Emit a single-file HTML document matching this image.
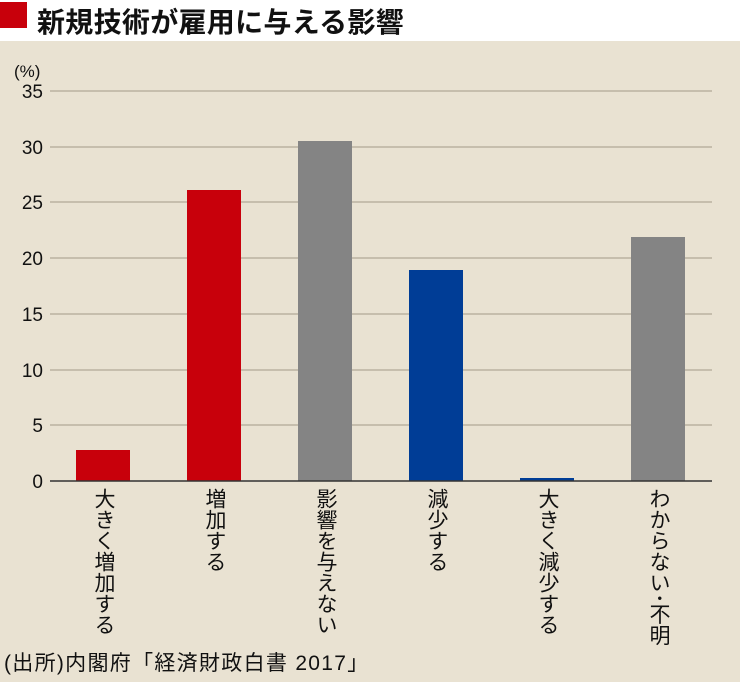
<!DOCTYPE html>
<html><head><meta charset="utf-8"><style>
body{margin:0;width:740px;height:682px;background:#fff;overflow:hidden;font-family:"Liberation Sans","Noto Sans CJK JP",sans-serif;}
.t{position:absolute;left:37px;top:1px;font-size:28px;font-weight:bold;color:#111;letter-spacing:0.3px}
.bg{position:absolute;left:0;top:41px;width:740px;height:641px;background:#e9e2d2}
.v{position:absolute;writing-mode:vertical-rl;font-size:21px;line-height:22px;color:#111;top:488px;letter-spacing:0}
</style></head><body>
<div style="position:absolute;left:0;top:2px;width:27px;height:26px;background:#c8000b"></div>
<div class="t">新規技術が雇用に与える影響</div>
<div class="bg"></div>
<svg width="740" height="682" style="position:absolute;left:0;top:0">
<g stroke="#a29a88" stroke-width="1">
<line x1="50" x2="712" y1="91" y2="91"/><line x1="50" x2="712" y1="147" y2="147"/>
<line x1="50" x2="712" y1="202" y2="202"/><line x1="50" x2="712" y1="258" y2="258"/>
<line x1="50" x2="712" y1="314" y2="314"/><line x1="50" x2="712" y1="370" y2="370"/>
<line x1="50" x2="712" y1="425" y2="425"/></g>
<g font-family="Liberation Sans" font-size="19" fill="#111" text-anchor="end">
<text x="43" y="98">35</text><text x="43" y="154">30</text><text x="43" y="209">25</text>
<text x="43" y="265">20</text><text x="43" y="321">15</text><text x="43" y="377">10</text>
<text x="43" y="432">5</text><text x="43" y="488">0</text></g>
<text x="14" y="77" font-family="Liberation Sans,Noto Sans CJK JP,sans-serif" font-size="17" fill="#111">(%)</text>
<rect x="76" y="450" width="54" height="31" fill="#c8000b"/>
<rect x="187" y="190" width="54" height="291" fill="#c8000b"/>
<rect x="298" y="141" width="54" height="340" fill="#848484"/>
<rect x="409" y="270" width="54" height="211" fill="#003d96"/>
<rect x="520" y="478" width="54" height="3" fill="#003d96"/>
<rect x="631" y="237" width="54" height="244" fill="#848484"/>
<line x1="50" x2="712" y1="481" y2="481" stroke="#333" stroke-width="1.5"/>
</svg>
<div class="v" style="left:92px">大きく増加する</div>
<div class="v" style="left:203px">増加する</div>
<div class="v" style="left:314px">影響を与えない</div>
<div class="v" style="left:425px">減少する</div>
<div class="v" style="left:536px">大きく減少する</div>
<div class="v" style="left:647px">わからない･不明</div>
<div style="position:absolute;left:4px;top:647px;font-size:21px;color:#111;letter-spacing:1.3px">(出所)内閣府「経済財政白書 2017」</div>
</body></html>
